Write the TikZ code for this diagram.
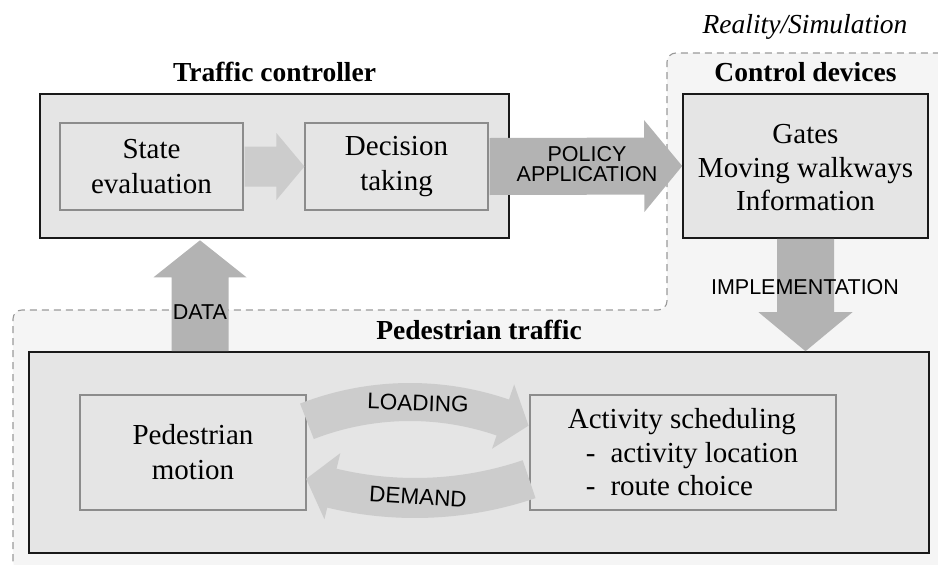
\documentclass[tikz,border=0pt]{standalone}
\usepackage{fontspec}
\setmainfont{Liberation Serif}
\setsansfont{Liberation Sans}
\usetikzlibrary{calc}

\definecolor{boxfill}{HTML}{E5E5E5}
\definecolor{regionfill}{HTML}{F5F5F5}
\definecolor{darkarrow}{HTML}{B3B3B3}
\definecolor{lightarrow}{HTML}{CCCCCC}
\definecolor{innerline}{HTML}{8C8C8C}
\definecolor{dashline}{HTML}{9A9A9A}

% straight block arrow: [style]{from}{to}{shaft half width}{head half width}{head length}
\newcommand{\blockarrow}[6][]{%
  \coordinate (ba-s) at (#2);
  \coordinate (ba-e) at (#3);
  \coordinate (ba-h) at ($(ba-e)!#6!(ba-s)$);
  \fill[#1] ($(ba-s)!#4!90:(ba-e)$) -- ($(ba-h)!#4!-90:(ba-s)$)
    -- ($(ba-h)!#5!-90:(ba-s)$) -- (ba-e) -- ($(ba-h)!#5!90:(ba-s)$)
    -- ($(ba-h)!#4!90:(ba-s)$) -- ($(ba-s)!#4!-90:(ba-e)$) -- cycle;
}

\tikzset{
  outerbox/.style={draw=black!90, line width=1.6pt, fill=boxfill, inner sep=0pt},
  innerbox/.style={draw=innerline, line width=1.2pt, fill=boxfill, inner sep=0pt,
    align=center, font=\fontsize{29}{35}\selectfont},
  boxtext/.style={align=center, inner sep=0pt, font=\fontsize{29}{33.5}\selectfont},
  title/.style={inner sep=0pt, anchor=base, font=\fontsize{27.5}{33}\selectfont\bfseries},
  flowlabel/.style={inner sep=0pt, align=center, font=\sffamily\fontsize{21.5}{20.5}\selectfont},
  looplabel/.style={inner sep=0pt, font=\sffamily\fontsize{22.5}{26}\selectfont},
  region/.style={draw=dashline, line width=1.1pt, dash pattern=on 7pt off 5pt,
    fill=regionfill, rounded corners=9pt},
}

\begin{document}
\begin{tikzpicture}[x=1pt, y=-1pt]
\useasboundingbox (0,0) rectangle (938,565);
\clip (0,0) rectangle (938,565);

% the reality/simulation domain
\path[region] (13,570) -- (13,310) -- (667,310) -- (667,53) -- (948,53) -- (948,570) -- cycle;
\node[inner sep=0pt, anchor=base, font=\fontsize{27.5}{33}\selectfont\itshape] (realsim) at (805,33) {Reality/Simulation};

% main blocks
\node[outerbox, minimum width=469, minimum height=144] (tc) at (274.5,166) {};
\node[outerbox, minimum width=245, minimum height=144] (ctrl) at (805.5,166) {};
\node[outerbox, minimum width=900, minimum height=201] (ped) at (479,452.5) {};

\node[title] (tctitle) at (274.5,81) {Traffic controller};
\node[title] (ctrltitle) at (805.5,81) {Control devices};
\node[title] (pedtitle) at (479,339) {Pedestrian traffic};

% sub-blocks
\node[innerbox, minimum width=183, minimum height=87] (se) at (151.5,166.5) {State\\evaluation};
\node[innerbox, minimum width=183, minimum height=87] (dt) at (396.5,166.5) {Decision\\taking};
\node[boxtext] (devices) at (805.5,168) {Gates\\Moving walkways\\Information};
\node[innerbox, minimum width=226, minimum height=115] (pm) at (193,452.5) {Pedestrian\\motion};
\node[innerbox, minimum width=306, minimum height=115] (as) at (683,452.5) {};
\node[boxtext, align=left] (astext) at (as.center)
  {Activity scheduling\\\hspace*{18pt}-\hspace{15pt}activity location\\\hspace*{18pt}-\hspace{15pt}route choice};

% straight flows
\blockarrow[lightarrow]{$(se.east)+(1,0)$}{dt.west}{20pt}{33.5pt}{28pt}
\blockarrow[darkarrow]{$(dt.east)+(1,0)$}{ctrl.west}{28.5pt}{46pt}{38pt}
\coordinate (dataX) at (200,0);
\blockarrow[darkarrow]{ped.north -| dataX}{$(tc.south -| dataX)+(0,1.5)$}{28.5pt}{46.5pt}{37pt}
\blockarrow[darkarrow]{ctrl.south}{ped.north -| ctrl.south}{28.5pt}{47pt}{39pt}

% loading / demand loop between motion and scheduling
\coordinate (loop) at ($(pm.east)!0.5!(as.west)$);
\coordinate (lc) at ($(loop)+(-8,234.5)$);
\coordinate (dc) at ($(loop)+(-3,-310.5)$);
\fill[lightarrow] ($(lc)+(-111.2:304)$) arc[start angle=-111.2, end angle=-71, radius=304]
  -- ($(lc)+(-71:320)$) -- ($(lc)+(-65.6:287)$) -- ($(lc)+(-71:252)$)
  -- ($(lc)+(-71:266)$) arc[start angle=-71, end angle=-111.2, radius=266] -- cycle;
\fill[lightarrow] ($(dc)+(71.3:376)$) arc[start angle=71.3, end angle=103.5, radius=376]
  -- ($(dc)+(103.5:388)$) -- ($(dc)+(107.9:354)$) -- ($(dc)+(103.5:320)$)
  -- ($(dc)+(103.5:336)$) arc[start angle=103.5, end angle=71.3, radius=336] -- cycle;

% flow labels
\node[flowlabel] (policy) at (587,164) {POLICY\\APPLICATION};
\node[flowlabel] (data) at (200,312) {DATA};
\node[flowlabel] (impl) at (805,287) {IMPLEMENTATION};
\node[looplabel, rotate=-2] (loading) at (418,403) {LOADING};
\node[looplabel, rotate=-3.5] (demand) at (418,497) {DEMAND};
\end{tikzpicture}
\end{document}
